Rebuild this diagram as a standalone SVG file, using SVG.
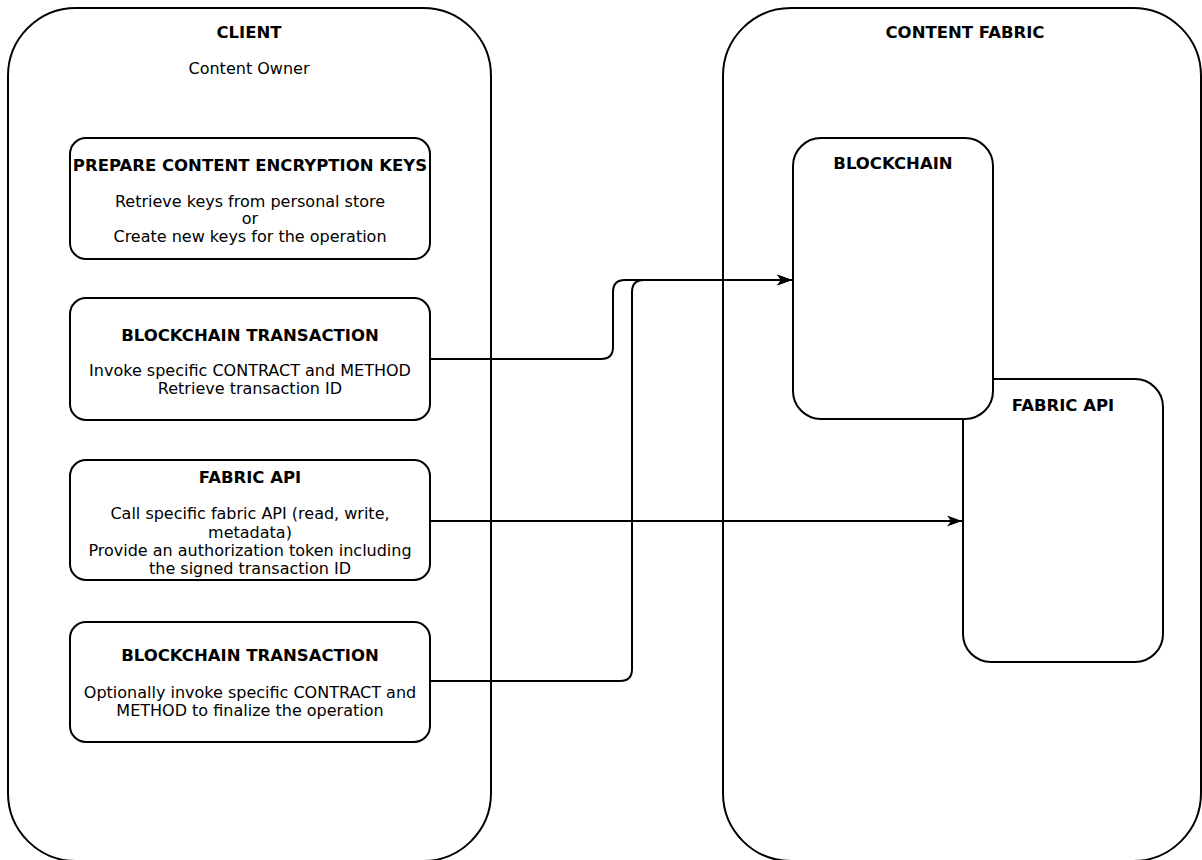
<svg xmlns="http://www.w3.org/2000/svg" width="1202" height="860" viewBox="0 0 1202 860">
<style>
.c{fill:#fff;stroke:#000;stroke-width:2}
.t{font-family:"DejaVu Sans",Verdana,sans-serif;font-size:16px;fill:#000;text-anchor:middle}
.b{font-weight:bold;font-size:16.5px}
.e{fill:none;stroke:#000;stroke-width:2}
</style>
<defs>
<marker id="ar" markerWidth="16" markerHeight="12" refX="15" refY="6" orient="auto" markerUnits="userSpaceOnUse">
<path d="M0,0.5 L15,6 L0,11.5 L4,6 Z" fill="#000"/>
</marker>
</defs>
<rect x="0" y="0" width="1202" height="860" fill="#fff"/>
<g id="client">
<rect class="c" x="8" y="8" width="483" height="853" rx="68" ry="68"/>
<text class="t b" x="249" y="38">CLIENT</text>
<text class="t" x="249" y="74">Content Owner</text>
</g>
<g id="content-fabric">
<rect class="c" x="723" y="8" width="478" height="853" rx="68" ry="68"/>
<text class="t b" x="965" y="38">CONTENT FABRIC</text>
</g>
<g id="fabric-api-node">
<rect class="c" x="963" y="379" width="200" height="283" rx="28" ry="28"/>
<text class="t b" x="1063" y="411">FABRIC API</text>
</g>
<g id="blockchain-node">
<rect class="c" x="793" y="138" width="200" height="281" rx="28" ry="28"/>
<text class="t b" x="893" y="169">BLOCKCHAIN</text>
</g>
<g id="prepare-keys">
<rect class="c" x="70" y="138" width="360" height="121" rx="16" ry="16"/>
<text class="t b" x="250" y="171">PREPARE CONTENT ENCRYPTION KEYS</text>
<text class="t" x="250" y="207">Retrieve keys from personal store</text>
<text class="t" x="250" y="224">or</text>
<text class="t" x="250" y="242">Create new keys for the operation</text>
</g>
<g id="blockchain-tx1">
<rect class="c" x="70" y="298" width="360" height="122" rx="16" ry="16"/>
<text class="t b" x="250" y="341">BLOCKCHAIN TRANSACTION</text>
<text class="t" x="250" y="376">Invoke specific CONTRACT and METHOD</text>
<text class="t" x="250" y="394">Retrieve transaction ID</text>
</g>
<g id="fabric-api-call">
<rect class="c" x="70" y="460" width="360" height="120" rx="16" ry="16"/>
<text class="t b" x="250" y="483">FABRIC API</text>
<text class="t" x="250" y="519">Call specific fabric API (read, write,</text>
<text class="t" x="250" y="538">metadata)</text>
<text class="t" x="250" y="556">Provide an authorization token including</text>
<text class="t" x="250" y="574">the signed transaction ID</text>
</g>
<g id="blockchain-tx2">
<rect class="c" x="70" y="622" width="360" height="120" rx="16" ry="16"/>
<text class="t b" x="250" y="661">BLOCKCHAIN TRANSACTION</text>
<text class="t" x="250" y="698">Optionally invoke specific CONTRACT and</text>
<text class="t" x="250" y="716">METHOD to finalize the operation</text>
</g>
<g id="connectors">
<path class="e" d="M430,359 H601 Q613,359 613,347 V292 Q613,280 625,280 H792" marker-end="url(#ar)"/>
<path class="e" d="M430,681 H620 Q632,681 632,669 V292 Q632,280 644,280 H792" marker-end="url(#ar)"/>
<path class="e" d="M430,521 H962" marker-end="url(#ar)"/>
</g>
</svg>
